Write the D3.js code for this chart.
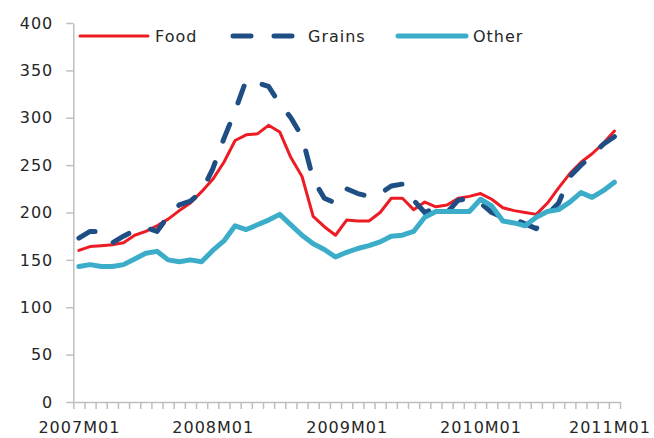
<!DOCTYPE html>
<html>
<head>
<meta charset="utf-8">
<title>Food, Grains and Other price indices</title>
<script src="https://d3js.org/d3.v7.min.js"></script>
<style>
  body { margin: 0; background: #fff; }
  text { font-family: "DejaVu Sans", sans-serif; font-size: 16px; fill: #262626; letter-spacing: 1px; }
</style>
</head>
<body>
<div id="chart"></div>
<script>
// monthly categories 2007M01 .. 2011M01
var months = [];
for (var yr = 2007; yr <= 2011; yr++) {
    for (var m = 1; m <= 12; m++) {
        if (yr == 2011 && m > 1) break;
        months.push(yr + "M" + (m < 10 ? "0" + m : m));
    }
}
var labelTicks = ["2007M01", "2008M01", "2009M01", "2010M01", "2011M01"];
var yTicks = [0, 50, 100, 150, 200, 250, 300, 350, 400];

var food = [160, 164, 165, 166, 168, 176, 180, 186, 193, 202, 210, 222,
            235, 253, 276, 282, 283, 292, 285, 258, 238, 196, 185, 176,
            192, 191, 191, 200, 215, 215, 203, 211, 206, 208, 215, 217,
            220, 214, 205, 202, 200, 198, 210, 226, 241, 253, 262, 273,
            286];
var grains = [173, 180, 180, 168, 175, 181, 184, 180, 196, 208, 212, 222,
              246, 278, 307, 340, 337, 333, 315, 300, 280, 235, 215, 210,
              225, 220, 217, 220, 228, 230, 213, 200, 205, 200, 213, 215,
              210, 200, 195, 193, 188, 183, 198, 210, 238, 250, 260, 272,
              280];
var other = [143, 145, 143, 143, 145, 151, 157, 159, 150, 148, 150, 148,
             160, 170, 186, 182, 187, 192, 198, 187, 176, 167, 161, 153,
             158, 162, 165, 169, 175, 176, 180, 195, 201, 201, 201, 201,
             214, 207, 191, 189, 186, 195, 201, 203, 211, 221, 216, 223,
             232];

var series = [
    {name: "Food", values: food, color: "#ed1c24", width: 3, dash: null},
    {name: "Grains", values: grains, color: "#1f4e84", width: 5, dash: "18,23"},
    {name: "Other", values: other, color: "#3badc9", width: 5, dash: null}
];

var W = 654, H = 438;
var plotLeft = 73.3, plotRight = 620, plotTop = 23, plotBottom = 402;

var svg = d3.select("#chart").append("svg")
    .attr("width", W)
    .attr("height", H);

var x = d3.scaleLinear()
    .domain([-0.5, months.length - 0.5])
    .range([plotLeft, plotRight]);

var y = d3.scaleLinear()
    .domain([0, 400])
    .range([plotBottom, plotTop]);

// y axis
var yAxis = svg.append("g")
    .attr("transform", "translate(" + plotLeft + ",0)")
    .call(d3.axisLeft(y).tickValues(yTicks).tickSize(7).tickSizeOuter(0).tickPadding(13));
yAxis.selectAll("path, line").attr("stroke", "#bfbfbf").attr("stroke-width", 1.5);
yAxis.selectAll("text").style("font-size", "16px").attr("fill", "#262626");

// x axis: ticks between categories
var bounds = d3.range(months.length + 1).map(function(i) { return i - 0.5; });
var xAxis = svg.append("g")
    .attr("transform", "translate(0," + plotBottom + ")")
    .call(d3.axisBottom(x).tickValues(bounds).tickSize(7).tickSizeOuter(0).tickFormat(""));
xAxis.selectAll("path, line").attr("stroke", "#bfbfbf").attr("stroke-width", 1.5);

// x labels every 12 months
var xLabels = svg.append("g")
    .attr("transform", "translate(0," + plotBottom + ")")
    .call(d3.axisBottom(x)
        .tickValues(labelTicks.map(function(l) { return months.indexOf(l); }))
        .tickSize(0).tickPadding(20)
        .tickFormat(function(i) { return months[i]; }));
xLabels.select(".domain").remove();
xLabels.selectAll("text").style("font-size", "16px").attr("fill", "#262626");
// last label pulled in a little so it stays inside the frame
xLabels.selectAll("text").filter(function(i) { return i == months.length - 1; }).attr("dx", -5);

var line = d3.line()
    .x(function(d, i) { return x(i); })
    .y(function(d) { return y(d); });

series.forEach(function(s) {
    svg.append("path")
        .datum(s.values)
        .attr("fill", "none")
        .attr("stroke", s.color)
        .attr("stroke-width", s.width)
        .attr("stroke-linejoin", "round")
        .attr("stroke-linecap", "round")
        .attr("stroke-dasharray", s.dash)
        .attr("d", line);
});

// legend
var legendX = [80, 233, 398];
series.forEach(function(s, i) {
    var g = svg.append("g").attr("transform", "translate(" + legendX[i] + ",36)");
    g.append("line")
        .attr("x1", 0).attr("x2", 68)
        .attr("stroke", s.color)
        .attr("stroke-width", s.width)
        .attr("stroke-linecap", "round")
        .attr("stroke-dasharray", s.dash);
    g.append("text")
        .attr("x", 75)
        .attr("dy", "0.35em")
        .text(s.name);
});
</script>
</body>
</html>
